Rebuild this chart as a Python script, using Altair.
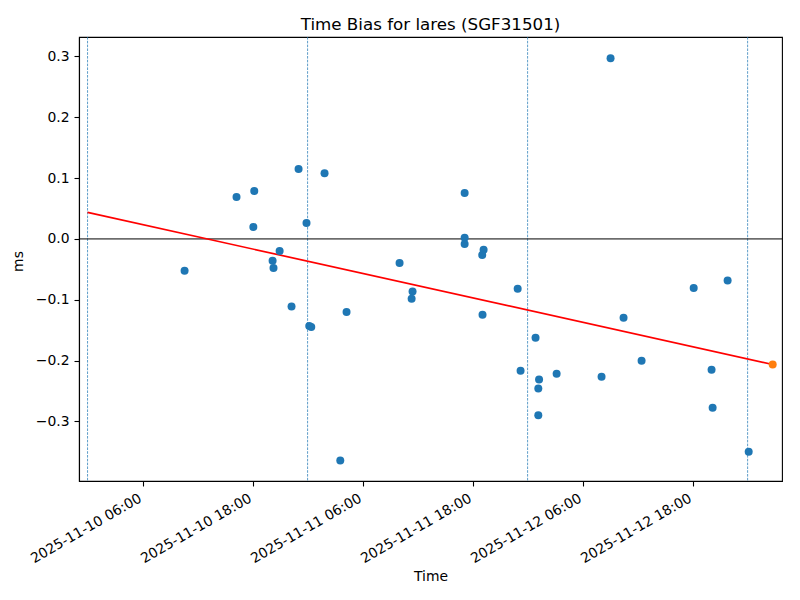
import altair as alt
import pandas as pd

# ---- data ----
times = [
    "2025-11-10T10:35:00Z", "2025-11-10T16:15:00Z", "2025-11-10T18:05:00Z", "2025-11-10T18:11:00Z",
    "2025-11-10T20:11:00Z", "2025-11-10T20:17:00Z", "2025-11-10T20:57:00Z", "2025-11-10T22:15:00Z",
    "2025-11-10T23:01:00Z", "2025-11-10T23:53:00Z", "2025-11-11T00:11:00Z", "2025-11-11T00:24:00Z",
    "2025-11-11T01:51:00Z", "2025-11-11T03:34:00Z", "2025-11-11T04:15:00Z", "2025-11-11T10:02:00Z",
    "2025-11-11T11:27:00Z", "2025-11-11T11:21:00Z", "2025-11-11T17:08:00Z", "2025-11-11T17:08:00Z",
    "2025-11-11T17:08:00Z", "2025-11-11T19:12:00Z", "2025-11-11T19:03:00Z", "2025-11-11T19:05:00Z",
    "2025-11-11T22:55:00Z", "2025-11-11T23:14:00Z", "2025-11-12T00:52:00Z", "2025-11-12T01:15:00Z",
    "2025-11-12T01:10:00Z", "2025-11-12T01:10:00Z", "2025-11-12T03:10:00Z", "2025-11-12T08:04:00Z",
    "2025-11-12T09:03:00Z", "2025-11-12T10:28:00Z", "2025-11-12T12:26:00Z", "2025-11-12T18:07:00Z",
    "2025-11-12T20:04:00Z", "2025-11-12T20:11:00Z", "2025-11-12T21:49:00Z", "2025-11-13T00:07:00Z",
]
values = [
    -0.0525, 0.069, 0.0197, 0.0788,
    -0.036, -0.0476, -0.0197, -0.111,
    0.115, 0.026, -0.143, -0.145,
    0.108, -0.3645, -0.120, -0.0394,
    -0.0865, -0.0985, 0.0755, 0.002,
    -0.0082, -0.0176, -0.0263, -0.1248,
    -0.0821, -0.2167, -0.1626, -0.231,
    -0.246, -0.290, -0.2217, -0.2266,
    0.2972, -0.1297, -0.2003, -0.0805,
    -0.2151, -0.2775, -0.0685, -0.3498,
]
latest_time = ["2025-11-13T02:44:00Z"]
latest_value = [-0.2064]
trend_times = ["2025-11-10T00:00:00Z", "2025-11-13T02:44:00Z"]
trend_values = [0.0437, -0.2064]
midnights = ["2025-11-10T00:00:00Z", "2025-11-11T00:00:00Z",
             "2025-11-12T00:00:00Z", "2025-11-13T00:00:00Z"]
zero_line = [0.0]
y_ticks = [-0.3, -0.2, -0.1, 0.0, 0.1, 0.2, 0.3]
x_ticks = [(10, 6), (10, 18), (11, 6), (11, 18), (12, 6), (12, 18)]

pts = pd.DataFrame({"t": times, "v": values})
latest = pd.DataFrame({"t": latest_time, "v": latest_value})
trend = pd.DataFrame({"t": trend_times, "v": trend_values})
mid = pd.DataFrame({"t": midnights})
zero = pd.DataFrame({"v": zero_line})

FONT = "DejaVu Sans"

xscale = alt.Scale(
    type="utc",
    domain=[alt.DateTime(year=2025, month=11, date=9, hours=23, minutes=4, utc=True),
            alt.DateTime(year=2025, month=11, date=13, hours=3, minutes=45, utc=True)],
)
yscale = alt.Scale(domain=[-0.398, 0.332], nice=False, zero=False)

xaxis = alt.Axis(
    title="Time",
    values=[alt.DateTime(year=2025, month=11, date=d, hours=h, utc=True) for d, h in x_ticks],
    format="%Y-%m-%d %H:%M",
    labelAngle=-30, labelAlign="right", labelBaseline="top", labelOffset=-6,
    labelPadding=5, tickSize=5, titleY=88, titleBaseline="top",
    labelOverlap=False, labelBound=False, labelFlush=False,
)
yaxis = alt.Axis(
    title="ms", values=y_ticks, format=".1f",
    tickSize=5, labelPadding=5, titleX=-54, titleY=224,
    labelOverlap=False,
)

x_enc = alt.X("t:T", scale=xscale, axis=xaxis)
y_enc = alt.Y("v:Q", scale=yscale, axis=yaxis)

mid_rules = alt.Chart(mid).mark_rule(
    stroke="#1f77b4", strokeDash=[2.6, 1.2], strokeWidth=0.8, strokeOpacity=0.9
).encode(x=alt.X("t:T", scale=xscale, axis=xaxis))

zero_rule = alt.Chart(zero).mark_rule(stroke="black", strokeWidth=1).encode(
    y=alt.Y("v:Q", scale=yscale, axis=yaxis)
)

trend_line = alt.Chart(trend).mark_line(stroke="red", strokeWidth=1.7).encode(x=x_enc, y=y_enc)

points = alt.Chart(pts).mark_circle(size=64, color="#1f77b4", opacity=1).encode(x=x_enc, y=y_enc)

latest_pt = alt.Chart(latest).mark_circle(size=64, color="#ff7f0e", opacity=1).encode(x=x_enc, y=y_enc)

chart = alt.layer(mid_rules, zero_rule, trend_line, points, latest_pt).properties(
    width=703,
    height=444,
    title=alt.TitleParams("Time Bias for lares (SGF31501)", fontSize=16.7, fontWeight="normal",
                          font=FONT, color="black", offset=3),
    autosize=alt.AutoSizeParams(type="none"),
    padding={"left": 71, "top": 29, "right": 10, "bottom": 105},
).configure(
    font=FONT,
).configure_axis(
    labelFont=FONT, titleFont=FONT, labelFontSize=13.9, titleFontSize=13.9,
    labelColor="black", titleColor="black", titleFontWeight="normal",
    domainColor="black", tickColor="black", domainWidth=1.1, tickWidth=1.1,
    grid=False,
).configure_view(
    stroke="black", strokeWidth=1.1,
)

chart.save("out.html", embed_options={"renderer": "svg", "actions": False})
